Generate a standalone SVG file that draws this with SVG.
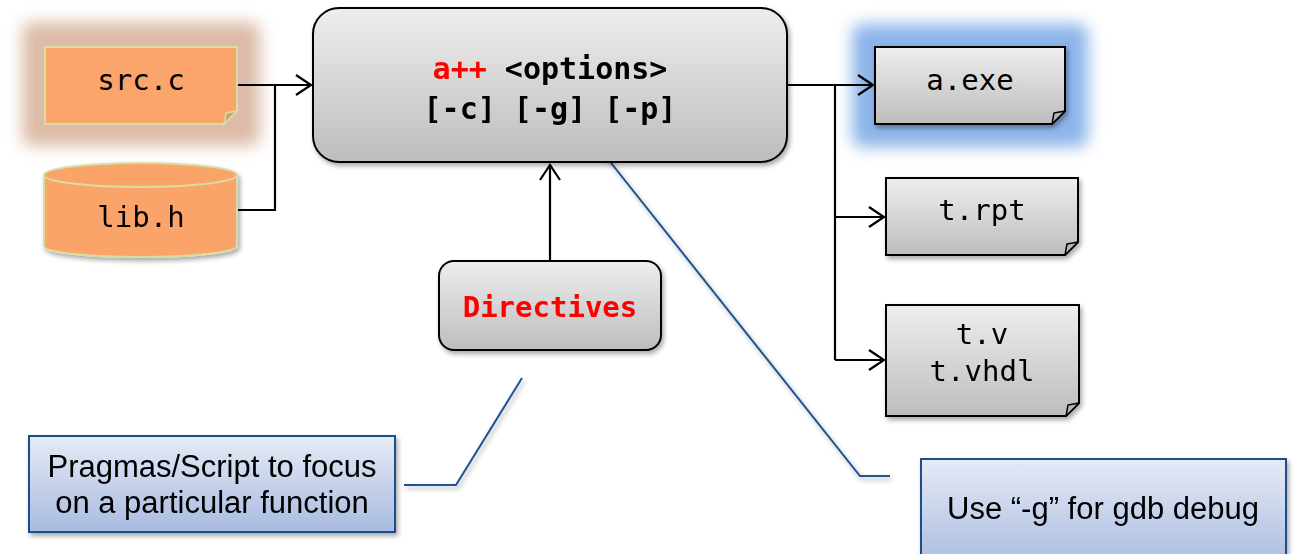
<svg xmlns="http://www.w3.org/2000/svg" width="1299" height="554" viewBox="0 0 1299 554">
  <style>
    .mono { font-family: "DejaVu Sans Mono", "Liberation Mono", monospace; font-size: 29px; fill: #000; text-anchor: middle; }
    .big { font-size: 30px; }
    .bold { font-weight: bold; }
    .red { fill: #FF0000; }
    .note { font-family: "Liberation Sans", Arial, sans-serif; font-size: 31px; fill: #000; text-anchor: middle; }
    .gray { fill: url(#grayGrad); stroke: #000; stroke-width: 2; }
    .orange { fill: #FBA46B; stroke: #DADDA2; stroke-width: 2; }
    .fold { fill: #B8B8B8; stroke: #000; stroke-width: 1.5; stroke-linejoin: round; }
    .foldO { fill: #D79F7E; stroke: #DADDA2; stroke-width: 1.5; }
    .callout { fill: url(#blueGrad); stroke: #1F4E8C; stroke-width: 2; }
    .wire { fill: none; stroke: #000; stroke-width: 2.2; }
    .lead { fill: none; stroke: #1F5591; stroke-width: 2; }
  </style>
  <defs>
    <linearGradient id="grayGrad" x1="0" y1="0" x2="0" y2="1">
      <stop offset="0" stop-color="#EEEEEE"/>
      <stop offset="1" stop-color="#BDBDBD"/>
    </linearGradient>
    <linearGradient id="blueGrad" x1="0" y1="0" x2="0" y2="1">
      <stop offset="0" stop-color="#E6EAF6"/>
      <stop offset="1" stop-color="#A8BBE0"/>
    </linearGradient>
    <filter id="shadow" x="-10%" y="-10%" width="125%" height="130%">
      <feGaussianBlur in="SourceAlpha" stdDeviation="2.5"/>
      <feOffset dx="2" dy="3" result="b"/>
      <feComponentTransfer><feFuncA type="linear" slope="0.35"/></feComponentTransfer>
      <feMerge><feMergeNode/><feMergeNode in="SourceGraphic"/></feMerge>
    </filter>
    <filter id="soft" x="-40%" y="-60%" width="180%" height="220%">
      <feGaussianBlur stdDeviation="8"/>
    </filter>
    <marker id="arrow" markerUnits="userSpaceOnUse" markerWidth="22" markerHeight="24" refX="17" refY="11" orient="auto">
      <path d="M2,1 L17,11 L2,21" fill="none" stroke="#000" stroke-width="2.2"/>
    </marker>
  </defs>

  <!-- glows behind highlighted files -->
  <g id="glows">
    <rect x="22" y="22" width="238" height="124" rx="10" fill="#C08460" opacity="0.55" filter="url(#soft)"/>
    <rect x="852" y="24" width="236" height="123" rx="10" fill="#5A94E0" opacity="0.7" filter="url(#soft)"/>
  </g>

  <!-- connectors -->
  <g id="connectors">
    <path class="wire" d="M237,85 H275 V210 H237"/>
    <path class="wire" d="M275,85 H311" marker-end="url(#arrow)"/>
    <path class="wire" d="M787,85 H873" marker-end="url(#arrow)"/>
    <path class="wire" d="M835,85 V360"/>
    <path class="wire" d="M835,217 H884" marker-end="url(#arrow)"/>
    <path class="wire" d="M835,360 H884" marker-end="url(#arrow)"/>
    <path class="wire" d="M550,261 V165" marker-end="url(#arrow)"/>
    <g filter="url(#shadow)">
      <path class="lead" d="M592,139 L860,476 H890"/>
      <path class="lead" d="M522,378 L456,485 H404"/>
    </g>
  </g>

  <!-- src.c -->
  <g id="src">
    <path class="orange" d="M45,47 H237 V111 L224,124 H45 Z"/>
    <path class="foldO" d="M237,111 L224,124 L226,113 Z"/>
    <text class="mono" x="141" y="90">src.c</text>
  </g>

  <!-- lib.h : header as cylinder -->
  <g id="lib" filter="url(#shadow)">
    <path class="orange" d="M44,175 V246 A96.5,11 0 0 0 237,246 V175"/>
    <ellipse class="orange" cx="140.5" cy="175" rx="96.5" ry="12" fill="#FCC49E"/>
    <text class="mono" x="141" y="227">lib.h</text>
  </g>

  <!-- compiler command -->
  <g id="compiler" filter="url(#shadow)">
    <rect class="gray" x="313" y="8" width="474" height="154" rx="26"/>
    <text class="mono big bold" x="550" y="79"><tspan class="red">a++</tspan> &lt;options&gt;</text>
    <text class="mono big bold" x="550" y="119">[-c] [-g] [-p]</text>
  </g>

  <!-- directives -->
  <g id="directives" filter="url(#shadow)">
    <rect class="gray" x="439" y="261" width="222" height="89" rx="15"/>
    <text class="mono bold red" x="550" y="317">Directives</text>
  </g>

  <!-- a.exe -->
  <g id="aexe">
    <g filter="url(#shadow)">
      <path class="gray" d="M875,47 H1065 V111 L1052,124 H875 Z"/>
      <path class="fold" d="M1065,111 L1052,124 L1054,113 Z"/>
    </g>
    <text class="mono" x="970" y="90">a.exe</text>
  </g>

  <!-- t.rpt -->
  <g id="trpt" filter="url(#shadow)">
    <path class="gray" d="M886,178 H1078 V242 L1065,255 H886 Z"/>
    <path class="fold" d="M1078,242 L1065,255 L1067,244 Z"/>
    <text class="mono" x="982" y="220">t.rpt</text>
  </g>

  <!-- t.v / t.vhdl -->
  <g id="tv" filter="url(#shadow)">
    <path class="gray" d="M886,305 H1079 V403 L1066,416 H886 Z"/>
    <path class="fold" d="M1079,403 L1066,416 L1068,405 Z"/>
    <text class="mono" x="982" y="344">t.v</text>
    <text class="mono" x="982" y="381">t.vhdl</text>
  </g>

  <!-- callout: pragmas -->
  <g id="note-pragmas" filter="url(#shadow)">
    <rect class="callout" x="29" y="436" width="366" height="96"/>
    <text class="note" x="212" y="477">Pragmas/Script to focus</text>
    <text class="note" x="212" y="513">on a particular function</text>
  </g>

  <!-- callout: debug -->
  <g id="note-debug" filter="url(#shadow)">
    <rect class="callout" x="921" y="459" width="365" height="110"/>
    <text class="note" x="1103" y="519">Use “-g” for gdb debug</text>
  </g>
</svg>
